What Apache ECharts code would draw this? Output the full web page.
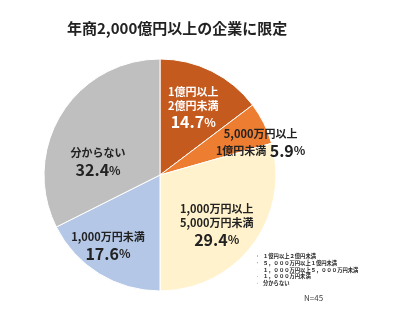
<!DOCTYPE html>
<html><head><meta charset="utf-8">
<script src="https://cdn.jsdelivr.net/npm/echarts@6/dist/echarts.min.js"></script>
<style>html,body{margin:0;padding:0;background:#fff}#c{width:400px;height:324px}</style>
</head><body><div id="c"></div>
<script>
const categories = ['１億円以上２億円未満','５，０００万円以上１億円未満','１，０００万円以上５，０００万円未満','１，０００万円未満','分からない'];
const labelTexts = ['1億円以上\n2億円未満','5,000万円以上\n1億円未満','1,000万円以上\n5,000万円未満','1,000万円未満','分からない'];
const values = [14.7, 5.9, 29.4, 17.6, 32.4];
const colors = ['#C55A1F','#ED7D31','#FFF2CC','#B4C7E7','#BFBFBF'];
const labelOffsets = [[6,-12],[46,-4],[8,14],[-20,20],[-10,20]];
const font = '"Noto Sans CJK JP", "Noto Sans", sans-serif';

function mkLabel(i){
  const white = i < 2;
  const c = white ? '#fff' : '#222';
  let fmt;
  if (i === 0) fmt = '{t|1億円以上}\n{t|2億円未満}\n{p|14.7}{s|%}';
  else if (i === 1) fmt = '{t|5,000万円以上}\n{t2|1億円未満} {p|5.9}{s|%}';
  else fmt = labelTexts[i].split('\n').map(s=>'{t|'+s+'}').join('\n') + '\n{p|' + values[i].toFixed(1) + '}{s|%}';
  return {
    show: true, position: 'inside', offset: labelOffsets[i],
    formatter: fmt, align: i===0 ? 'left' : 'center',
    rich: {
      t: {fontSize: 11, fontWeight: 'bold', color: i===1 ? '#222' : c, fontFamily: font, lineHeight: 14, align: i===0?'left':'center'},
      t2: {fontSize: 11, fontWeight: 'bold', color: '#222', fontFamily: font, lineHeight: 18},
      p: {fontSize: 16, fontWeight: 'bold', color: i===1 ? '#222' : c, fontFamily: font, lineHeight: 20},
      s: {fontSize: 12, fontWeight: 'bold', color: i===1 ? '#222' : c, fontFamily: font, lineHeight: 20}
    }
  };
}

const chart = echarts.init(document.getElementById('c'));
chart.setOption({
  animation: false,
  title: [{
    text: '年商2,000億円以上の企業に限定', left: 62, top: 16,
    textStyle: {fontSize: 15, fontWeight: 'bold', color: '#222', fontFamily: font}
  },{
    text: 'N=45', left: 299, top: 289,
    textStyle: {fontSize: 8, fontWeight: 'normal', color: '#444', fontFamily: font}
  }],
  legend: {
    orient: 'vertical', left: 255, top: 253, padding: 0, itemWidth: 3, itemHeight: 3, itemGap: 0.8,
    icon: 'rect', data: categories,
    textStyle: {fontSize: 5.3, lineHeight: 6, color: '#222', fontWeight: 'bold', fontFamily: font, padding: [0,0,0,-1]}
  },
  series: [{
    type: 'pie', center: [160, 175], radius: 116, startAngle: 90, clockwise: true,
    itemStyle: {borderColor: '#fff', borderWidth: 1},
    labelLine: {show: false},
    labelLayout: {hideOverlap: false},
    data: categories.map((n,i)=>({name: n, value: values[i], itemStyle: {color: colors[i]}, label: mkLabel(i)}))
  }]
});
</script></body></html>
